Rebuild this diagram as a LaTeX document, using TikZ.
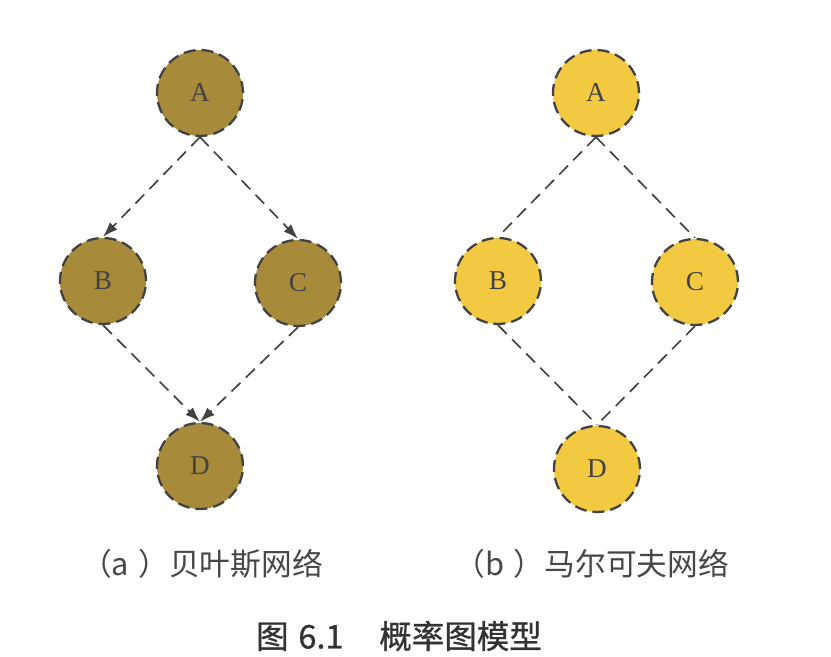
\documentclass[tikz,border=0pt]{standalone}
\usepackage{fontspec}
\usetikzlibrary{arrows.meta}
\setmainfont{Liberation Serif}
\newfontfamily\cjk{Noto Sans CJK SC}
\newfontfamily\cjkbold{Noto Sans CJK SC}[FakeBold=0.9]
\definecolor{bayesfill}{HTML}{A88B3A}
\definecolor{markovfill}{HTML}{F4C942}
\definecolor{edgegray}{HTML}{424242}
\definecolor{capgray}{HTML}{474747}

\begin{document}
\begin{tikzpicture}[
  var/.style={circle,minimum size=1.72cm,inner sep=0pt,draw=edgegray,line width=1.3pt,
    dash pattern=on 0.24cm off 0.12cm,font=\fontsize{15.5}{18}\selectfont,text=edgegray},
  link/.style={edgegray,line width=0.95pt,dash pattern=on 0.25cm off 0.15cm},
  caption/.style={font=\cjk\fontsize{17.5}{20}\selectfont,text=capgray}]
\useasboundingbox (0,0) rectangle (16.62,13.14);
% (a) Bayes network
\node[var,fill=bayesfill] (aA) at (4.0,11.28) {A};
\node[var,fill=bayesfill] (aB) at (2.06,7.52) {B};
\node[var,fill=bayesfill] (aC) at (5.96,7.48) {C};
\node[var,fill=bayesfill] (aD) at (4.0,3.82) {D};
\foreach \s/\t in {aA/aB,aA/aC,aB/aD,aC/aD}
  \draw[link,-{Latex[length=0.3cm,width=0.21cm]}] (\s.south) -- (\t.north);
% (b) Markov network
\node[var,fill=markovfill] (mA) at (11.92,11.28) {A};
\node[var,fill=markovfill] (mB) at (9.96,7.52) {B};
\node[var,fill=markovfill] (mC) at (13.9,7.5) {C};
\node[var,fill=markovfill] (mD) at (11.94,3.76) {D};
\foreach \s/\t in {mA/mB,mA/mC,mB/mD,mC/mD}
  \draw[link] (\s.south) -- (\t.north);
% captions
\node[caption] (capa) at (4.04,1.87) {（a\hspace{0.3em}）贝叶斯网络};
\node[caption] (capb) at (11.84,1.87) {（b\hspace{0.3em}）马尔可夫网络};
\node[font=\cjkbold\fontsize{18.5}{21}\selectfont,text=black!80] (title) at (7.98,0.42) {图\hspace{0.3em}6.1\hspace{1.1em}概率图模型};
\end{tikzpicture}
\end{document}
